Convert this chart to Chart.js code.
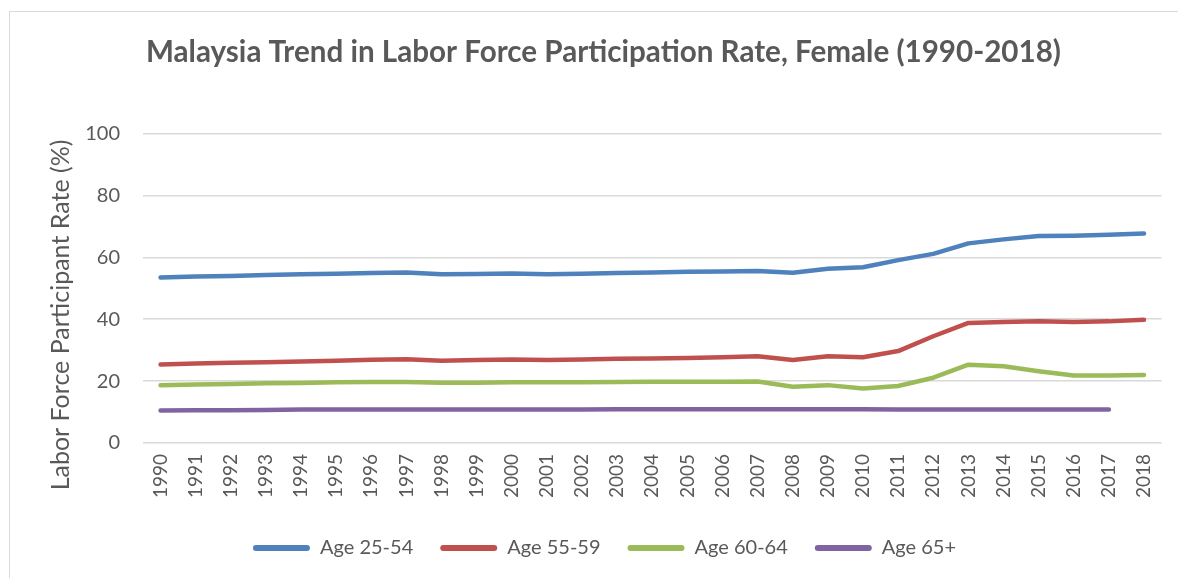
<!DOCTYPE html>
<html>
<head>
<meta charset="utf-8">
<script src="https://cdn.jsdelivr.net/npm/chart.js@4/dist/chart.umd.min.js"></script>
<style>
  html, body { margin: 0; padding: 0; background: #fff; }
  #wrap { position: relative; width: 1178px; height: 578px; overflow: hidden; }
  #frame { position: absolute; left: 9px; top: 11px; width: 1300px; height: 700px; border: 1px solid #d9d9d9; box-sizing: border-box; }
  canvas { position: absolute; left: 0; top: 0; }
</style>
</head>
<body>
<div id="wrap">
  <div id="frame"></div>
  <canvas id="c" width="1178" height="578"></canvas>
</div>
<script>
const years = ["1990","1991","1992","1993","1994","1995","1996","1997","1998","1999","2000","2001","2002","2003","2004","2005","2006","2007","2008","2009","2010","2011","2012","2013","2014","2015","2016","2017","2018"];
const age2554 = [53.5,53.8,54.0,54.3,54.5,54.7,54.9,55.1,54.5,54.6,54.8,54.5,54.7,54.9,55.1,55.3,55.4,55.6,55.0,56.3,56.8,59.1,61.1,64.5,65.8,66.9,67.0,67.3,67.7];
const age5559 = [25.4,25.7,25.9,26.1,26.3,26.6,26.9,27.1,26.6,26.8,27.0,26.8,27.0,27.2,27.3,27.5,27.7,28.0,26.8,28.0,27.7,29.7,34.5,38.8,39.1,39.3,39.1,39.3,39.8];
const age6064 = [18.7,18.9,19.1,19.3,19.4,19.6,19.7,19.7,19.5,19.5,19.6,19.6,19.6,19.7,19.8,19.8,19.8,19.9,18.2,18.7,17.6,18.4,21.1,25.3,24.8,23.2,21.8,21.8,22.0];
const age65 = [10.5,10.6,10.6,10.7,10.8,10.8,10.8,10.8,10.8,10.8,10.8,10.8,10.8,10.9,10.9,10.9,10.9,10.9,10.9,10.9,10.9,10.8,10.8,10.8,10.8,10.8,10.8,10.8];
const yTicks = [0,20,40,60,80,100];
const titleText = "Malaysia Trend in Labor Force Participation Rate, Female (1990-2018)";
const yTitle = "Labor Force Participant Rate (%)";

const txt = "#595959";
const FONT = "Lato, 'Open Sans', sans-serif";

function ds(label, data, color) {
  return { label, data, borderColor: color, backgroundColor: color, borderWidth: 4.5,
    pointRadius: 0, pointHoverRadius: 0, tension: 0, borderCapStyle: 'round', borderJoinStyle: 'round', fill: false };
}

const yTitlePlugin = {
  id: 'yTitle',
  afterLayout(chart) {
    // Shift title and legend horizontally to match the reference's centring
    const t = chart.titleBlock; t.left += 20; t.right += 20;
    const l = chart.legend; l.left += 21; l.right += 21;
  },
  afterDraw(chart) {
    const ctx = chart.ctx;
    ctx.save();
    ctx.translate(61, 315);
    ctx.rotate(-Math.PI / 2);
    ctx.font = "25px " + FONT;
    ctx.fillStyle = txt;
    ctx.textAlign = 'center';
    ctx.textBaseline = 'middle';
    ctx.fillText(yTitle, 0, 0);
    ctx.restore();
  }
};

new Chart(document.getElementById('c'), {
  type: 'line',
  data: {
    labels: years,
    datasets: [
      ds("Age 25-54", age2554, "#4F81BD"),
      ds("Age 55-59", age5559, "#C0504D"),
      ds("Age 60-64", age6064, "#9BBB59"),
      ds("Age 65+", age65, "#8064A2")
    ]
  },
  options: {
    responsive: false,
    animation: false,
    layout: { padding: { left: 0, right: 11, top: 0, bottom: 10 } },
    plugins: {
      tooltip: { enabled: false },
      title: {
        display: true, text: titleText, color: txt,
        font: { family: FONT, size: 29.6, weight: 'bold' },
        lineHeight: 1.2,
        padding: { top: 35, bottom: 63 }
      },
      legend: {
        position: 'bottom',
        labels: {
          color: txt, font: { family: FONT, size: 20 },
          boxWidth: 57, boxHeight: 6, useBorderRadius: true, borderRadius: 3,
          padding: 27,
          generateLabels(chart) {
            const items = Chart.defaults.plugins.legend.labels.generateLabels(chart);
            items.forEach(i => { i.lineWidth = 0; i.strokeStyle = 'transparent'; });
            return items;
          }
        }
      }
    },
    scales: {
      x: {
        type: 'category',
        offset: true,
        grid: { display: false, drawTicks: false },
        border: { display: false },
        ticks: { color: txt, font: { family: FONT, size: 19 }, minRotation: 90, maxRotation: 90, padding: 11, autoSkip: false },
        afterFit(s) { s.height = 68; }
      },
      y: {
        min: 0, max: 100,
        afterBuildTicks(s) { s.ticks = yTicks.map(v => ({ value: v })); },
        grid: { color: "#d9d9d9", lineWidth: 1.5, drawTicks: false },
        border: { display: false },
        ticks: { color: txt, font: { family: FONT, size: 20 }, padding: 23 },
        afterFit(s) { s.width = 143; }
      }
    }
  },
  plugins: [yTitlePlugin]
});
</script>
</body>
</html>
